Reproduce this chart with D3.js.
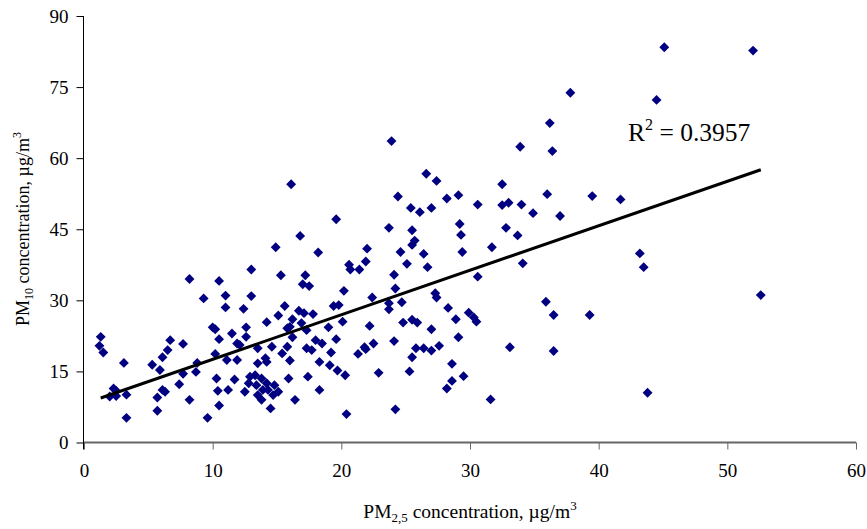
<!DOCTYPE html>
<html>
<head>
<meta charset="utf-8">
<script src="https://cdn.jsdelivr.net/npm/d3@7"></script>
<style>
  html, body { margin: 0; padding: 0; background: #fff; }
  svg { display: block; }
  text { font-family: "Liberation Serif", "Times New Roman", serif; fill: #000; }
</style>
</head>
<body>
<svg id="chart" width="867" height="529"></svg>
<script>
// PM2.5 (x) values, µg/m3
const pm25 = [
  1.3,1.2,1.5,3.1,8.2,9.3,10.5,11.0,11.0,13.0,13.0,12.4,10.0,10.2,10.5,10.2,12.6,6.7,6.5,6.1,
  7.7,5.3,5.9,8.8,8.7,7.7,10.3,7.4,2.3,2.5,2.0,2.5,3.3,6.1,6.3,5.7,10.4,8.2,10.5,5.7,3.3,9.6,
  11.5,11.9,12.1,12.6,11.1,11.9,13.5,14.1,13.5,14.2,14.6,15.4,15.8,16.0,17.3,18.0,18.5,18.3,
  11.7,12.9,13.3,12.8,13.4,13.8,14.2,13.9,14.3,14.8,15.1,14.7,13.5,13.8,12.5,11.2,14.5,15.9,17.4,16.4,18.3,
  15.3,17.2,17.0,17.5,20.6,20.7,21.4,21.9,25.1,26.7,24.1,24.2,20.2,22.4,27.3,27.4,24.7,23.7,23.7,19.4,19.8,28.3,
  15.6,15.1,14.2,16.7,17.1,17.8,16.2,16.9,20.1,22.2,19.0,15.8,16.0,17.3,24.8,25.5,25.9,27.0,28.9,19.6,29.1,16.2,
  17.7,19.2,22.5,21.8,21.9,21.3,24.1,25.8,25.5,26.4,27.0,27.6,19.1,19.7,20.3,22.9,25.3,28.6,28.6,28.2,20.4,24.2,
  16.1,19.6,16.8,14.9,18.2,
  23.9,33.9,26.6,27.4,32.5,24.4,28.2,29.1,25.4,26.1,27.0,30.6,32.5,33.0,34.0,34.9,23.7,25.5,29.2,29.3,32.8,33.7,
  22.0,25.7,25.5,24.6,26.4,29.4,31.7,34.1,30.6,
  29.9,30.3,30.5,35.9,36.5,39.3,33.1,36.5,29.5,31.6,
  45.1,52.0,37.8,44.5,36.2,36.4,36.0,37.0,39.5,41.7,43.2,43.5,52.6,43.8
];
// PM10 (y) values, µg/m3
const pm10 = [
  22.3,20.4,19.0,16.8,34.5,30.4,34.1,31.0,28.5,36.5,30.9,28.2,24.3,23.9,21.8,18.7,24.3,21.6,19.5,18.0,
  20.8,16.4,15.3,16.8,14.9,14.5,13.5,12.3,11.4,10.9,9.7,9.8,10.1,11.1,10.7,9.5,10.9,9.0,7.8,6.7,5.2,5.2,
  23.0,20.9,20.6,22.3,17.4,17.4,19.9,17.8,16.7,17.0,20.2,18.8,20.2,17.3,19.9,21.6,20.9,17.0,
  13.3,13.9,14.2,12.5,12.1,13.5,12.5,11.1,11.1,12.1,10.7,10.0,10.0,9.0,10.7,11.1,7.2,13.5,13.9,9.0,11.1,
  35.3,35.3,33.4,33.0,37.5,36.5,36.5,38.2,37.7,37.0,35.4,32.5,32.0,30.6,31.5,30.6,29.6,29.4,28.1,28.8,29.0,28.4,
  28.8,26.8,25.4,27.8,27.3,27.1,26.0,25.2,25.5,24.6,24.3,24.1,24.4,23.7,25.3,25.9,25.3,23.9,26.0,21.8,22.2,22.2,
  19.5,19.0,20.9,20.1,19.7,18.7,21.4,19.9,18.0,19.9,19.4,20.4,16.3,15.2,14.2,14.7,15.0,16.6,13.0,11.4,6.0,7.0,
  54.5,47.1,43.6,41.2,40.1,
  63.6,62.4,56.7,55.2,54.5,51.9,51.5,52.2,49.5,48.6,49.5,50.2,50.1,50.6,50.2,48.4,45.3,44.8,46.1,43.8,45.3,43.7,
  40.9,42.6,41.7,40.2,39.8,40.2,41.2,37.8,35.0,
  27.4,26.4,25.5,29.7,26.9,26.9,20.1,19.3,14.0,9.1,
  83.4,82.7,73.8,72.3,67.4,61.5,52.4,47.8,52.0,51.3,39.9,37.0,31.1,10.5
];
// Linear trend line
const trendX = [1.3, 52.6];
const trendSlope = 0.939;
const trendIntercept = 8.17;
const rSquared = "0.3957";
// Axis ticks
const xTicks = [0, 10, 20, 30, 40, 50, 60];
const yTicks = [0, 15, 30, 45, 60, 75, 90];

const svg = d3.select("#chart");
const x = d3.scaleLinear().domain([0, 60]).range([84, 856]);
const y = d3.scaleLinear().domain([0, 90]).range([442.5, 16]);

// Y axis
const yAxis = svg.append("g").attr("transform", "translate(83.5,0)")
  .call(d3.axisLeft(y).tickValues(yTicks).tickSize(7).tickPadding(8));
yAxis.select(".domain").attr("stroke", "#000").attr("d", "M0," + y(90) + "V" + (y(0) + 7));
yAxis.selectAll(".tick line").attr("stroke", "#000");
yAxis.selectAll(".tick text").attr("font-size", "19px")
  .style("font-family", "'Liberation Serif','Times New Roman',serif").attr("fill", "#000");

// X axis
const xAxis = svg.append("g").attr("transform", "translate(0,442.5)")
  .call(d3.axisBottom(x).tickValues(xTicks).tickSize(7).tickPadding(14));
xAxis.select(".domain").attr("stroke", "#666").attr("stroke-width", 2)
  .attr("d", "M" + x(0) + ",0H" + x(60));
xAxis.selectAll(".tick line").attr("stroke", "#666");
xAxis.selectAll(".tick text").attr("font-size", "19px")
  .style("font-family", "'Liberation Serif','Times New Roman',serif").attr("fill", "#000");
svg.selectAll(".tick text").attr("fill", "#000");

// Points
const pts = pm25.map((v, i) => [v, pm10[i]]);
const diamond = d3.symbol().type(d3.symbolDiamond2).size(62);
svg.append("g").selectAll("path").data(pts).join("path")
  .attr("d", diamond)
  .attr("transform", d => `translate(${x(d[0])},${y(d[1])})`)
  .attr("fill", "#000080");

// Trend line
svg.append("line")
  .attr("x1", x(trendX[0])).attr("y1", y(trendSlope * trendX[0] + trendIntercept))
  .attr("x2", x(trendX[1])).attr("y2", y(trendSlope * trendX[1] + trendIntercept))
  .attr("stroke", "#000").attr("stroke-width", 3);

// R² label
const rt = svg.append("text").attr("x", 628).attr("y", 141).attr("font-size", "25.5px");
rt.append("tspan").text("R");
rt.append("tspan").attr("font-size", "16px").attr("dy", -11).text("2");
rt.append("tspan").attr("dy", 11).text(" = " + rSquared);

// X axis title
const xt = svg.append("text").attr("x", 470).attr("y", 518).attr("text-anchor", "middle").attr("font-size", "19.5px");
xt.append("tspan").text("PM");
xt.append("tspan").attr("font-size", "13px").attr("dy", 4).text("2,5");
xt.append("tspan").attr("dy", -4).text(" concentration, \u00b5g/m");
xt.append("tspan").attr("font-size", "13px").attr("dy", -8).text("3");

// Y axis title
const yt = svg.append("text").attr("transform", "translate(29,229) rotate(-90)")
  .attr("text-anchor", "middle").attr("font-size", "18px");
yt.append("tspan").text("PM");
yt.append("tspan").attr("font-size", "12px").attr("dy", 4).text("10");
yt.append("tspan").attr("dy", -4).text(" concentration, \u00b5g/m");
yt.append("tspan").attr("font-size", "12px").attr("dy", -8).text("3");
</script>
</body>
</html>
